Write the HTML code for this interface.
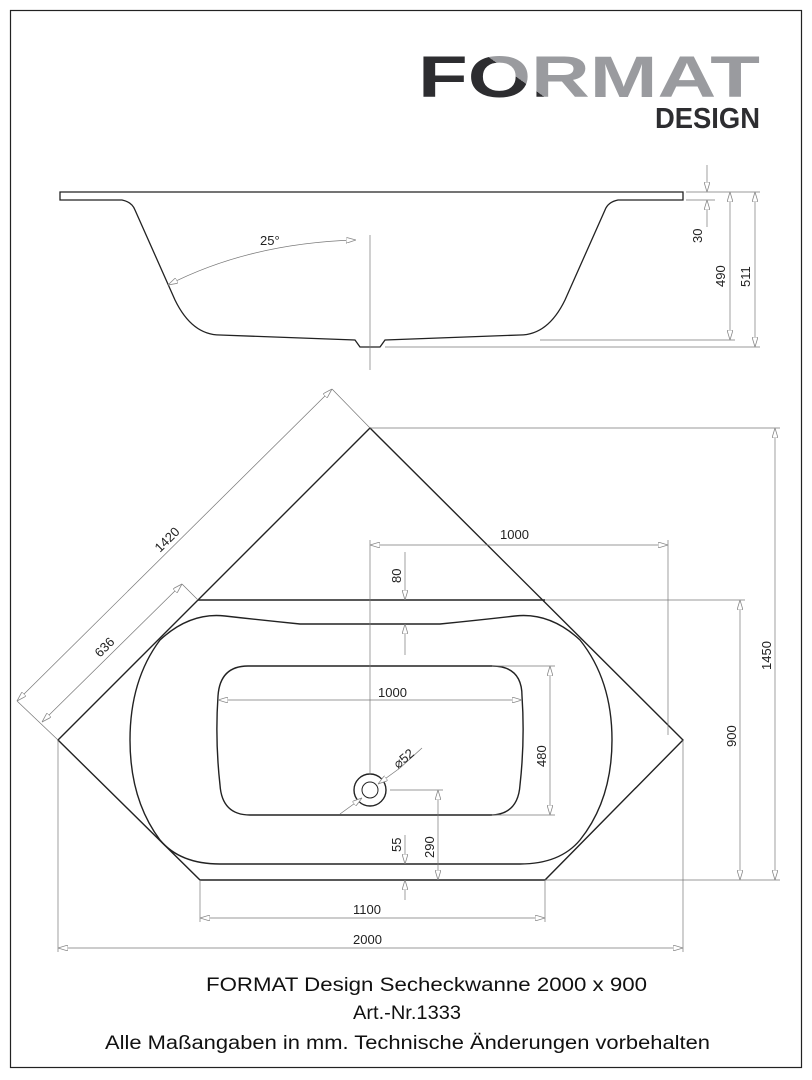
<!DOCTYPE html>
<html><head><meta charset="utf-8"><style>
html,body{margin:0;padding:0;background:#fff;}
svg{display:block;font-family:"Liberation Sans",Arial,sans-serif;}
</style></head><body>
<svg width="812" height="1080" viewBox="0 0 812 1080" xmlns="http://www.w3.org/2000/svg">
<defs>
<marker id="a" viewBox="0 0 10 6" refX="10" refY="3" markerWidth="10" markerHeight="6" orient="auto-start-reverse" markerUnits="userSpaceOnUse">
<path d="M0,0 L10,3 L0,6 Z" fill="#fff" stroke="#888" stroke-width="0.8"/>
</marker>
<linearGradient id="lg" gradientUnits="userSpaceOnUse" x1="500" y1="97" x2="530" y2="55">
<stop offset="0.5" stop-color="#2d2d30"/><stop offset="0.5" stop-color="#9a9b9f"/>
</linearGradient>
</defs>
<rect x="10.5" y="10.5" width="791" height="1057" fill="none" stroke="#222" stroke-width="1.2"/>

<!-- logo -->
<g font-weight="bold">
<text x="418" y="97" font-size="58" fill="url(#lg)" textLength="342" lengthAdjust="spacingAndGlyphs">FORMAT</text>
<text x="655" y="128" font-size="29" fill="#2d2d30" textLength="105" lengthAdjust="spacingAndGlyphs">DESIGN</text>
</g>

<!-- side view -->
<g fill="none" stroke="#222" stroke-width="1.3">
<path d="M60,192 L683,192 L683,200 L618,200 Q608,202 605,210 L565,300 Q548,335 520,335 L385,340 L380,347 L360,347 L355,340 L220,335 Q192,335 175,300 L135,210 Q132,202 122,200 L60,200 Z"/>
</g>
<g stroke="#777" stroke-width="0.7" fill="none">
<line x1="370" y1="235" x2="370" y2="370"/>
<path d="M168,285 Q250,243 356,240" marker-start="url(#a)" marker-end="url(#a)"/>
<line x1="686" y1="192" x2="760" y2="192"/>
<line x1="686" y1="200" x2="715" y2="200"/>
<line x1="540" y1="340" x2="735" y2="340"/>
<line x1="385" y1="347" x2="760" y2="347"/>
<line x1="707" y1="165" x2="707" y2="192" marker-end="url(#a)"/>
<line x1="707" y1="227" x2="707" y2="200" marker-end="url(#a)"/>
<line x1="730" y1="192" x2="730" y2="340" marker-start="url(#a)" marker-end="url(#a)"/>
<line x1="755" y1="192" x2="755" y2="347" marker-start="url(#a)" marker-end="url(#a)"/>
</g>
<g font-size="13" fill="#222">
<text x="260" y="245">25°</text>
<text transform="translate(702,243) rotate(-90)">30</text>
<text transform="translate(725,287) rotate(-90)">490</text>
<text transform="translate(750,287) rotate(-90)">511</text>
</g>

<!-- plan view -->
<g fill="none" stroke="#222" stroke-width="1.4">
<path d="M370,428 L683,740 L545,880 L200,880 L58,740 Z"/>
<line x1="198" y1="600" x2="545" y2="600"/>
<path d="M160,640 Q190,612 225,616 Q260,620 300,624 L440,624 Q480,620 515,616 Q550,612 580,640 Q612,680 612,740 Q612,800 580,840 Q560,864 520,864 L220,864 Q180,864 160,840 Q130,800 130,740 Q130,680 160,640 Z"/>
<path d="M248,666 L492,666 Q522,666 522,696 Q525,740 520,785 Q518,815 490,815 L250,815 Q222,815 220,785 Q215,740 218,696 Q220,666 248,666 Z"/>
<circle cx="370" cy="790" r="16"/>
<circle cx="370" cy="790" r="8" stroke-width="1"/>
</g>
<g stroke="#777" stroke-width="0.7" fill="none">
<line x1="370" y1="428" x2="332" y2="389"/>
<line x1="58" y1="740" x2="17" y2="701"/>
<line x1="332" y1="389" x2="17" y2="701" marker-start="url(#a)" marker-end="url(#a)"/>
<line x1="198" y1="600" x2="182" y2="584"/>
<line x1="182" y1="584" x2="42" y2="722" marker-start="url(#a)" marker-end="url(#a)"/>
<line x1="370" y1="428" x2="780" y2="428"/>
<line x1="775" y1="428" x2="775" y2="880" marker-start="url(#a)" marker-end="url(#a)"/>
<line x1="545" y1="600" x2="745" y2="600"/>
<line x1="545" y1="880" x2="780" y2="880"/>
<line x1="740" y1="600" x2="740" y2="880" marker-start="url(#a)" marker-end="url(#a)"/>
<line x1="370" y1="540" x2="370" y2="775"/>
<line x1="668" y1="540" x2="668" y2="735"/>
<line x1="370" y1="545" x2="668" y2="545" marker-start="url(#a)" marker-end="url(#a)"/>
<line x1="405" y1="552" x2="405" y2="600" marker-end="url(#a)"/>
<line x1="405" y1="655" x2="405" y2="624" marker-end="url(#a)"/>
<line x1="218" y1="700" x2="522" y2="700" marker-start="url(#a)" marker-end="url(#a)"/>
<line x1="492" y1="666" x2="555" y2="666"/>
<line x1="492" y1="815" x2="555" y2="815"/>
<line x1="550" y1="666" x2="550" y2="815" marker-start="url(#a)" marker-end="url(#a)"/>
<line x1="390" y1="790" x2="443" y2="790"/>
<line x1="438" y1="790" x2="438" y2="880" marker-start="url(#a)" marker-end="url(#a)"/>
<line x1="405" y1="835" x2="405" y2="864" marker-end="url(#a)"/>
<line x1="405" y1="900" x2="405" y2="880" marker-end="url(#a)"/>
<line x1="340" y1="814" x2="362" y2="798" marker-end="url(#a)"/>
<line x1="400" y1="768" x2="378" y2="784" marker-end="url(#a)"/>
<line x1="400" y1="768" x2="422" y2="748"/>
<line x1="200" y1="880" x2="200" y2="922"/>
<line x1="545" y1="880" x2="545" y2="922"/>
<line x1="200" y1="918" x2="545" y2="918" marker-start="url(#a)" marker-end="url(#a)"/>
<line x1="58" y1="740" x2="58" y2="952"/>
<line x1="683" y1="740" x2="683" y2="952"/>
<line x1="58" y1="948" x2="683" y2="948" marker-start="url(#a)" marker-end="url(#a)"/>
</g>
<g font-size="13" fill="#222">
<text transform="translate(160,553) rotate(-45)">1420</text>
<text transform="translate(100,658) rotate(-45)">636</text>
<text x="500" y="539">1000</text>
<text x="378" y="697">1000</text>
<text transform="translate(401,583) rotate(-90)">80</text>
<text transform="translate(546,767) rotate(-90)">480</text>
<text transform="translate(771,670) rotate(-90)">1450</text>
<text transform="translate(736,747) rotate(-90)">900</text>
<text transform="translate(434,858) rotate(-90)">290</text>
<text transform="translate(401,852) rotate(-90)">55</text>
<text transform="translate(398,769) rotate(-40)">⌀52</text>
<text x="353" y="914">1100</text>
<text x="353" y="944">2000</text>
</g>

<g font-size="19" fill="#111">
<text x="206" y="991" textLength="441" lengthAdjust="spacingAndGlyphs">FORMAT Design Secheckwanne  2000 x 900</text>
<text x="353" y="1019" textLength="108" lengthAdjust="spacingAndGlyphs">Art.-Nr.1333</text>
<text x="105" y="1049" textLength="605" lengthAdjust="spacingAndGlyphs">Alle Maßangaben in mm. Technische Änderungen vorbehalten</text>
</g>
</svg>
</body></html>
